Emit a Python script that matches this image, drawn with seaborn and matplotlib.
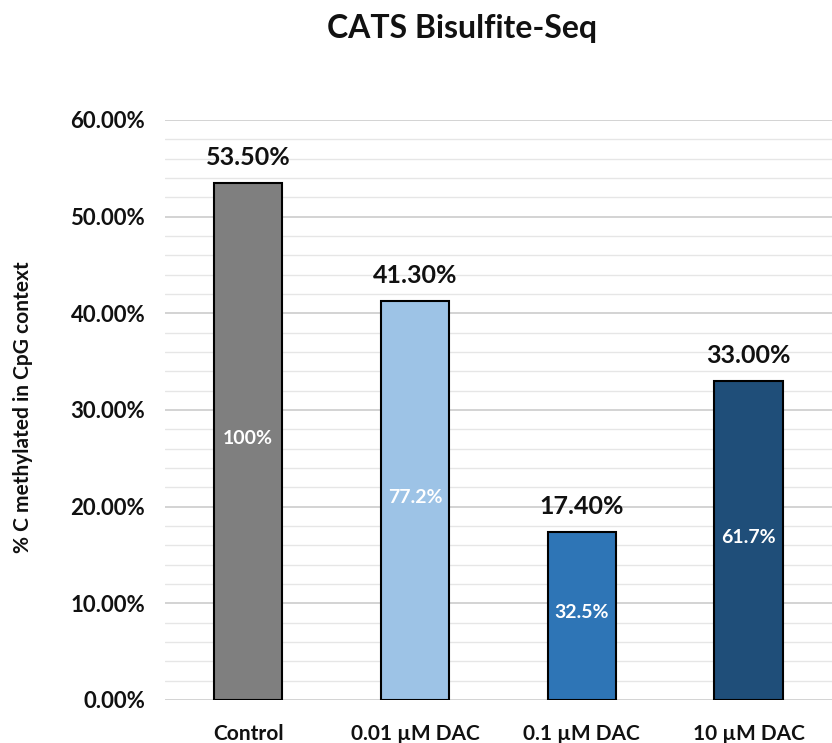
import matplotlib
matplotlib.use("Agg")
import matplotlib.pyplot as plt
import seaborn as sns
import pandas as pd
from matplotlib.ticker import MultipleLocator, FuncFormatter

categories = ["Control", "0.01 µM DAC", "0.1 µM DAC", "10 µM DAC"]
methylated_pct = [53.5, 41.3, 17.4, 33.0]
relative_labels = ["100%", "77.2%", "32.5%", "61.7%"]
bar_colors = ["#7f7f7f", "#9dc3e6", "#2e75b6", "#1f4e79"]

df = pd.DataFrame({"condition": categories, "pct": methylated_pct})

sns.set_theme(style="white")
plt.rcParams["font.family"] = ["Lato", "DejaVu Sans"]

fig = plt.figure(figsize=(8.32, 7.43), dpi=100)
ax = fig.add_axes([0.198, 0.058, 0.802, 0.7805])

sns.barplot(data=df, x="condition", y="pct", hue="condition",
            palette=bar_colors, saturation=1, legend=False, width=0.41,
            edgecolor="black", linewidth=1.5, ax=ax, zorder=3)

ax.set_ylim(0, 60)
ax.set_xlim(-0.5, 3.5)
ax.yaxis.set_major_locator(MultipleLocator(10))
ax.yaxis.set_minor_locator(MultipleLocator(2))
ax.yaxis.set_major_formatter(FuncFormatter(lambda v, _: f"{v:.2f}%"))
ax.grid(axis="y", which="major", color="#d0d0d0", linewidth=1.3, zorder=0)
ax.grid(axis="y", which="minor", color="#e6e6e6", linewidth=1.0, zorder=0)
ax.set_axisbelow(True)
for s in ax.spines.values():
    s.set_visible(False)
ax.tick_params(axis="both", which="both", length=0)
ax.tick_params(axis="y", pad=14)
ax.tick_params(axis="x", pad=17)
for lbl in ax.get_yticklabels():
    lbl.set_fontsize(16)
    lbl.set_fontweight("bold")
    lbl.set_color("#111111")
for lbl in ax.get_xticklabels():
    lbl.set_fontsize(15)
    lbl.set_fontweight("bold")
    lbl.set_color("#111111")

ax.set_xlabel("")
ax.set_ylabel("% C methylated in CpG context", fontsize=15, fontweight="bold",
              color="#111111")
ax.yaxis.set_label_coords(-0.198, 0.505)

for i, (v, rel) in enumerate(zip(methylated_pct, relative_labels)):
    ax.annotate(f"{v:.2f}%", (i, v), xytext=(0, 10), textcoords="offset points",
                ha="center", va="bottom", fontsize=18, fontweight="bold",
                color="#111111")
    ax.text(i, v / 2 + 0.3, rel, ha="center", va="center", fontsize=14,
            fontweight="bold", color="white", zorder=5)

fig.text(0.555, 0.961, "CATS Bisulfite-Seq", ha="center", va="center",
         fontsize=23, fontweight="bold", color="#111111")

fig.savefig("out.png", dpi=100, facecolor="white")
